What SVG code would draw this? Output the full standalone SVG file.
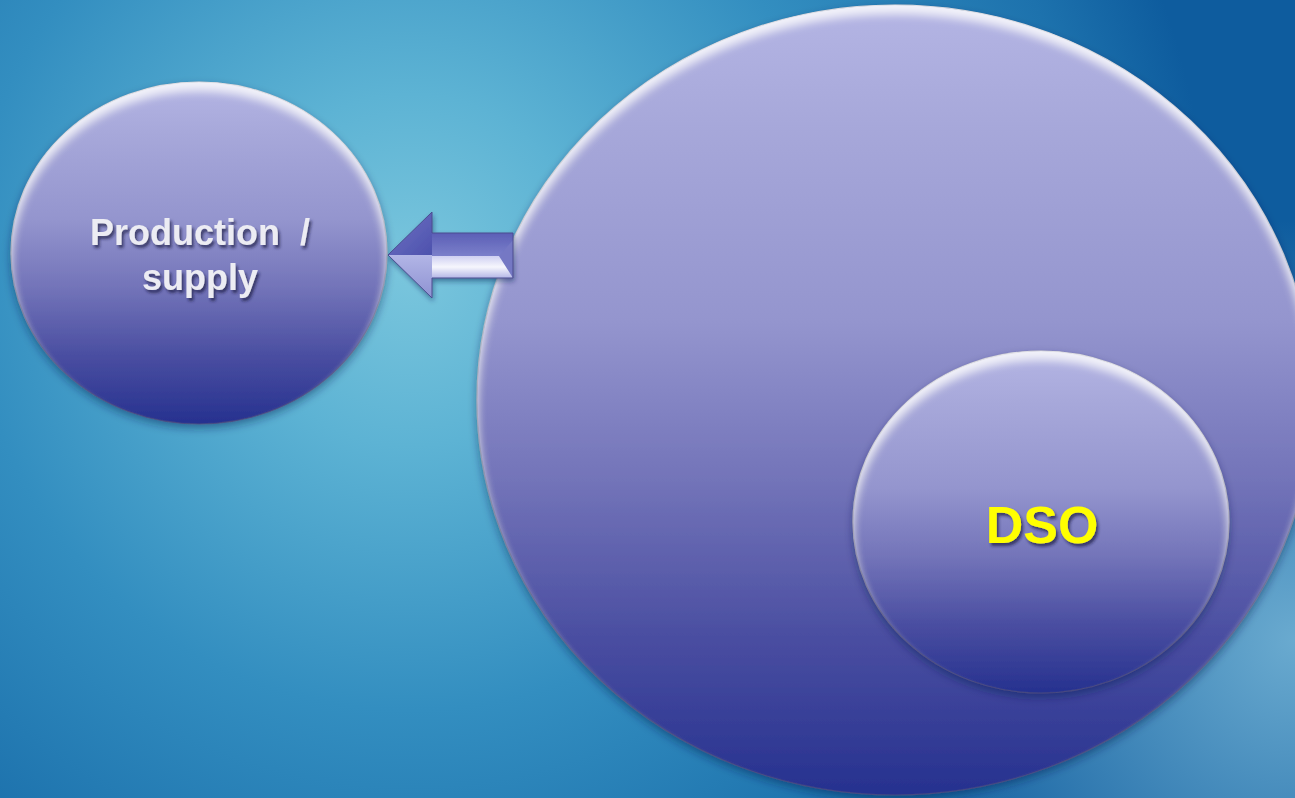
<svg xmlns="http://www.w3.org/2000/svg" width="1295" height="798" viewBox="0 0 1295 798">
<defs>
<radialGradient id="bg" gradientUnits="userSpaceOnUse" cx="410" cy="270" r="800">
<stop offset="0" stop-color="#7ac6dd"/>
<stop offset="0.22" stop-color="#5db3d4"/>
<stop offset="0.55" stop-color="#338ec0"/>
<stop offset="0.85" stop-color="#1d72ad"/>
<stop offset="1" stop-color="#0e5c9e"/>
</radialGradient>
<radialGradient id="bg2" gradientUnits="userSpaceOnUse" cx="1295" cy="640" r="420">
<stop offset="0" stop-color="#7ab8d8" stop-opacity="0.85"/>
<stop offset="1" stop-color="#7ab8d8" stop-opacity="0"/>
</radialGradient>
<linearGradient id="ball" x1="0" y1="0" x2="0" y2="1">
<stop offset="0" stop-color="#b4b5e4"/>
<stop offset="0.15" stop-color="#a7a8da"/>
<stop offset="0.4" stop-color="#9495ce"/>
<stop offset="0.6" stop-color="#7374b9"/>
<stop offset="0.8" stop-color="#4a4ea1"/>
<stop offset="1" stop-color="#26318f"/>
</linearGradient>
<linearGradient id="shaftTop" x1="0" y1="0" x2="0" y2="1">
<stop offset="0" stop-color="#5b5fb6"/>
<stop offset="1" stop-color="#7b7fca"/>
</linearGradient>
<linearGradient id="shaftBot" x1="0" y1="0" x2="0" y2="1">
<stop offset="0" stop-color="#cfd0f2"/>
<stop offset="0.5" stop-color="#f6f6fd"/>
<stop offset="1" stop-color="#b4b6e6"/>
</linearGradient>
<linearGradient id="headTop" x1="0" y1="0" x2="1" y2="1">
<stop offset="0" stop-color="#7074c4"/>
<stop offset="1" stop-color="#4d51ad"/>
</linearGradient>
<linearGradient id="headBot" x1="0" y1="0" x2="0" y2="1">
<stop offset="0" stop-color="#b2b5e6"/>
<stop offset="1" stop-color="#8e92d2"/>
</linearGradient>
<filter id="bevel" x="-5%" y="-5%" width="110%" height="115%">
<feGaussianBlur in="SourceAlpha" stdDeviation="5" result="b"/>
<feOffset in="b" dy="9" result="o"/>
<feComposite in="SourceAlpha" in2="o" operator="out" result="rim"/>
<feFlood flood-color="#ffffff" flood-opacity="0.8"/>
<feComposite in2="rim" operator="in" result="hl"/>
<feGaussianBlur in="SourceAlpha" stdDeviation="4" result="sb"/>
<feOffset in="sb" dy="4" result="so"/>
<feFlood flood-color="#0a2050" flood-opacity="0.45"/>
<feComposite in2="so" operator="in" result="shadow"/>
<feMerge>
<feMergeNode in="shadow"/>
<feMergeNode in="SourceGraphic"/>
<feMergeNode in="hl"/>
</feMerge>
</filter>
<filter id="ashadow" x="-10%" y="-10%" width="130%" height="140%">
<feGaussianBlur in="SourceAlpha" stdDeviation="2.5" result="sb"/>
<feOffset in="sb" dx="1" dy="3" result="so"/>
<feFlood flood-color="#0a2050" flood-opacity="0.45"/>
<feComposite in2="so" operator="in" result="shadow"/>
<feMerge>
<feMergeNode in="shadow"/>
<feMergeNode in="SourceGraphic"/>
</feMerge>
</filter>
<filter id="tshadow" x="-10%" y="-20%" width="130%" height="150%">
<feGaussianBlur in="SourceAlpha" stdDeviation="1.5" result="sb"/>
<feOffset in="sb" dx="2" dy="2.5" result="so"/>
<feFlood flood-color="#1a1a40" flood-opacity="0.7"/>
<feComposite in2="so" operator="in" result="shadow"/>
<feMerge>
<feMergeNode in="shadow"/>
<feMergeNode in="SourceGraphic"/>
</feMerge>
</filter>
<style>
.ball { fill: url(#ball); stroke: #45477e; stroke-width: 1.2; stroke-opacity: 0.85; filter: url(#bevel); }
.lbl { font-family: "Liberation Sans", Arial, sans-serif; font-weight: bold; text-anchor: middle; filter: url(#tshadow); white-space: pre; }
.prod { fill: #ececf3; font-size: 36px; }
.dso { fill: #ffff00; font-size: 52px; }
</style>
</defs>
<rect width="1295" height="798" fill="url(#bg)"/>
<rect width="1295" height="798" fill="url(#bg2)"/>

<g id="node-outer">
<ellipse class="ball" cx="895" cy="400" rx="418" ry="395"/>
</g>

<g id="node-production">
<ellipse class="ball" cx="199" cy="253" rx="188" ry="171"/>
<text class="lbl prod" x="200" y="245">Production  /</text>
<text class="lbl prod" x="200" y="290">supply</text>
</g>

<g id="node-dso">
<ellipse class="ball" cx="1041" cy="522" rx="188" ry="171"/>
<text class="lbl dso" x="1042" y="543">DSO</text>
</g>

<g id="connectors">
<g filter="url(#ashadow)">
<polygon points="388,255 432,212 432,255" fill="url(#headTop)"/>
<polygon points="388,255 432,255 432,298" fill="url(#headBot)"/>
<rect x="432" y="233" width="81" height="23" fill="url(#shaftTop)"/>
<rect x="432" y="256" width="81" height="22" fill="url(#shaftBot)"/>
<polygon points="499,256 513,240 513,278" fill="#7478c4"/>
<polygon points="388,255 432,212 432,233 513,233 513,278 432,278 432,298" fill="none" stroke="#4a4c90" stroke-width="1"/>
</g>
</g>
</svg>
